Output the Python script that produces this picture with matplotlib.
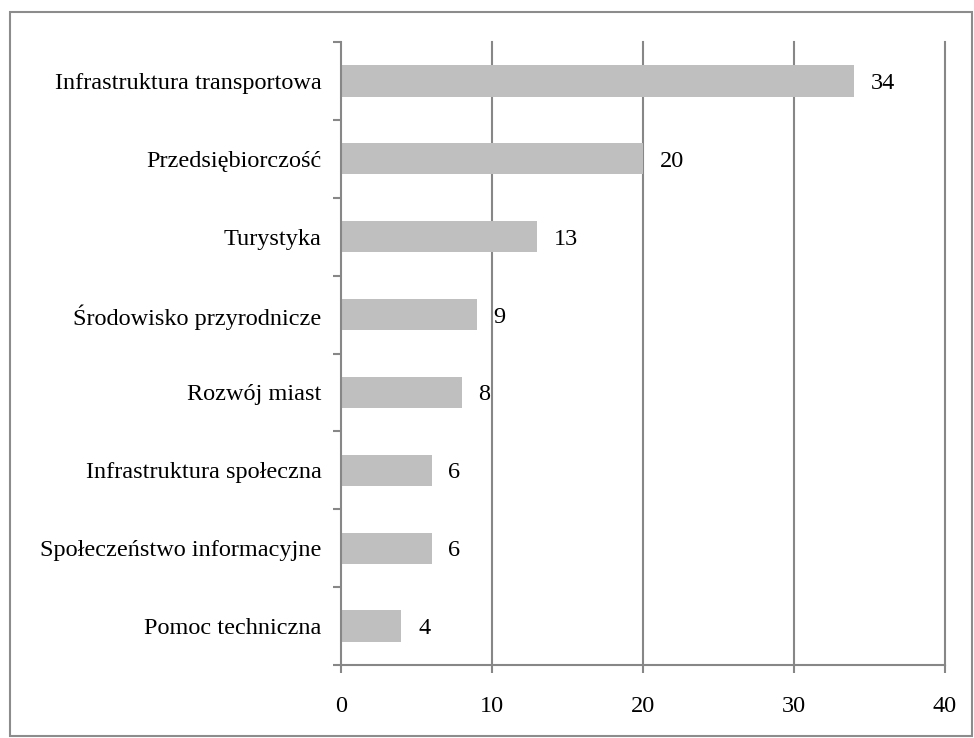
import matplotlib
matplotlib.use("Agg")
import matplotlib.pyplot as plt
from matplotlib.patches import Rectangle

categories = [
    "Infrastruktura transportowa",
    "Przedsiębiorczość",
    "Turystyka",
    "Środowisko przyrodnicze",
    "Rozwój miast",
    "Infrastruktura społeczna",
    "Społeczeństwo informacyjne",
    "Pomoc techniczna",
]
values = [34, 20, 13, 9, 8, 6, 6, 4]
x_ticks = [0, 10, 20, 30, 40]

plt.rcParams["font.family"] = ["Liberation Serif", "DejaVu Serif"]
GRID = "#878787"
FS = 17.5

fig = plt.figure(figsize=(9.74, 7.38), dpi=100)
ax = fig.add_axes([341 / 974, 1 - 665 / 738, (945 - 341) / 974, (665 - 42) / 738])

n = len(categories)
ypos = list(range(n - 1, -1, -1))
ax.barh(ypos, values, height=0.4, color="#BFBFBF", zorder=3)

for y, v in zip(ypos, values):
    ax.annotate(str(v), (v, y), xytext=(12, 0), textcoords="offset points",
                ha="left", va="center_baseline", fontsize=FS, color="black", zorder=4)

ax.set_xlim(0, 40)
ax.set_ylim(-0.5, n - 0.5)
ax.set_xticks(x_ticks)
ax.set_xticklabels([str(t) for t in x_ticks], fontsize=FS)
ax.set_yticks(ypos)
ax.set_yticklabels(categories, fontsize=FS)
ax.tick_params(axis="y", which="major", length=0, pad=14)
ax.set_yticks([i - 0.5 for i in range(n + 1)], minor=True)
ax.tick_params(axis="y", which="minor", length=6, width=1.5, color=GRID, direction="out")
ax.tick_params(axis="x", length=6, width=1.5, color=GRID, direction="out", pad=16)

# vertical gridlines, drawn unclipped so the one at the right edge keeps full width
for t in x_ticks[1:]:
    ax.axvline(t, color=GRID, linewidth=1.5, zorder=0, clip_on=False)

for side in ["top", "right"]:
    ax.spines[side].set_visible(False)
for side in ["left", "bottom"]:
    ax.spines[side].set_color(GRID)
    ax.spines[side].set_linewidth(1.5)
    ax.spines[side].set_zorder(5)

fig.patches.append(Rectangle((10 / 974, 1 - 736 / 738), 962 / 974, 724 / 738,
                             transform=fig.transFigure, fill=False,
                             edgecolor="#8C8C8C", linewidth=1.5))

fig.savefig("out.png", dpi=100)
